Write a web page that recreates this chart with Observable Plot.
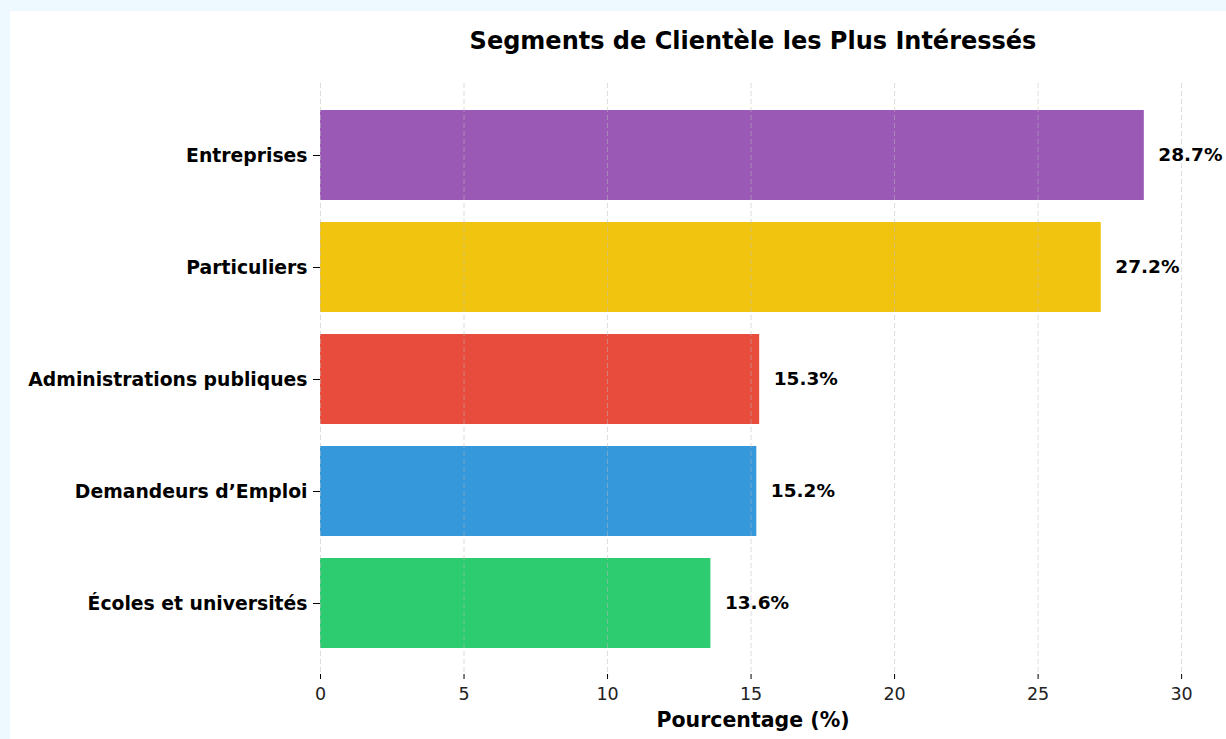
<!DOCTYPE html>
<html>
<head>
<meta charset="utf-8">
<script src="https://cdn.jsdelivr.net/npm/d3@7"></script>
<script src="https://cdn.jsdelivr.net/npm/@observablehq/plot@0.6"></script>
<style>
  html, body { margin: 0; padding: 0; background: #eef8ff; }
  #panel { position: absolute; left: 10px; top: 11px; width: 1216px; height: 728px; background: #ffffff; overflow: hidden; }
  svg { font-family: "DejaVu Sans", sans-serif; }
</style>
</head>
<body>
<div id="panel"></div>
<script>
const categories = ["Entreprises", "Particuliers", "Administrations publiques", "Demandeurs d’Emploi", "Écoles et universités"];
const values = [28.7, 27.2, 15.3, 15.2, 13.6];
const colors = ["#9b59b6", "#f1c40f", "#e74c3c", "#3498db", "#2ecc71"];
const xTicks = [0, 5, 10, 15, 20, 25, 30];
const title = "Segments de Clientèle les Plus Intéressés";
const xLabel = "Pourcentage (%)";

const data = categories.map((c, i) => ({category: c, value: values[i], color: colors[i]}));

const chart = Plot.plot({
  width: 1216,
  height: 728,
  marginLeft: 310,
  marginRight: 41,
  marginTop: 72,
  marginBottom: 65,
  style: {fontFamily: "DejaVu Sans, sans-serif", fontSize: "17.5px", background: "white", color: "black"},
  x: {domain: [0, 30.135], ticks: xTicks},
  y: {domain: categories, paddingInner: 0.2, paddingOuter: 0.22},
  marks: [
    Plot.barX(data, {x: "value", y: "category", fill: "color"}),
    Plot.gridX(xTicks, {stroke: "#bbbbbb", strokeOpacity: 0.5, strokeDasharray: "5,3", strokeWidth: 1}),
    Plot.axisX({ticks: xTicks, tickSize: 5, text: null, label: null, stroke: "black"}),
    Plot.text(xTicks, {x: d => d, frameAnchor: "bottom", lineAnchor: "middle", dy: 20, text: d => String(d), fontSize: 17.5, fill: "#222"}),
    Plot.axisY({tickSize: 7, tickPadding: 6, fontSize: 18.8, fontWeight: "bold", label: null, stroke: "black"}),
    Plot.text(data, {x: "value", y: "category", text: d => d.value.toFixed(1) + "%", textAnchor: "start", dx: 14, fontSize: 18.5, fontWeight: "bold", fill: "black"}),
    Plot.text([title], {frameAnchor: "top", lineAnchor: "middle", dy: -42, fontSize: 24, fontWeight: "bold", fill: "black"}),
    Plot.text([xLabel], {frameAnchor: "bottom", lineAnchor: "middle", dy: 46, fontSize: 20.5, fontWeight: "bold", fill: "black"})
  ]
});
document.getElementById("panel").appendChild(chart);
</script>
</body>
</html>
